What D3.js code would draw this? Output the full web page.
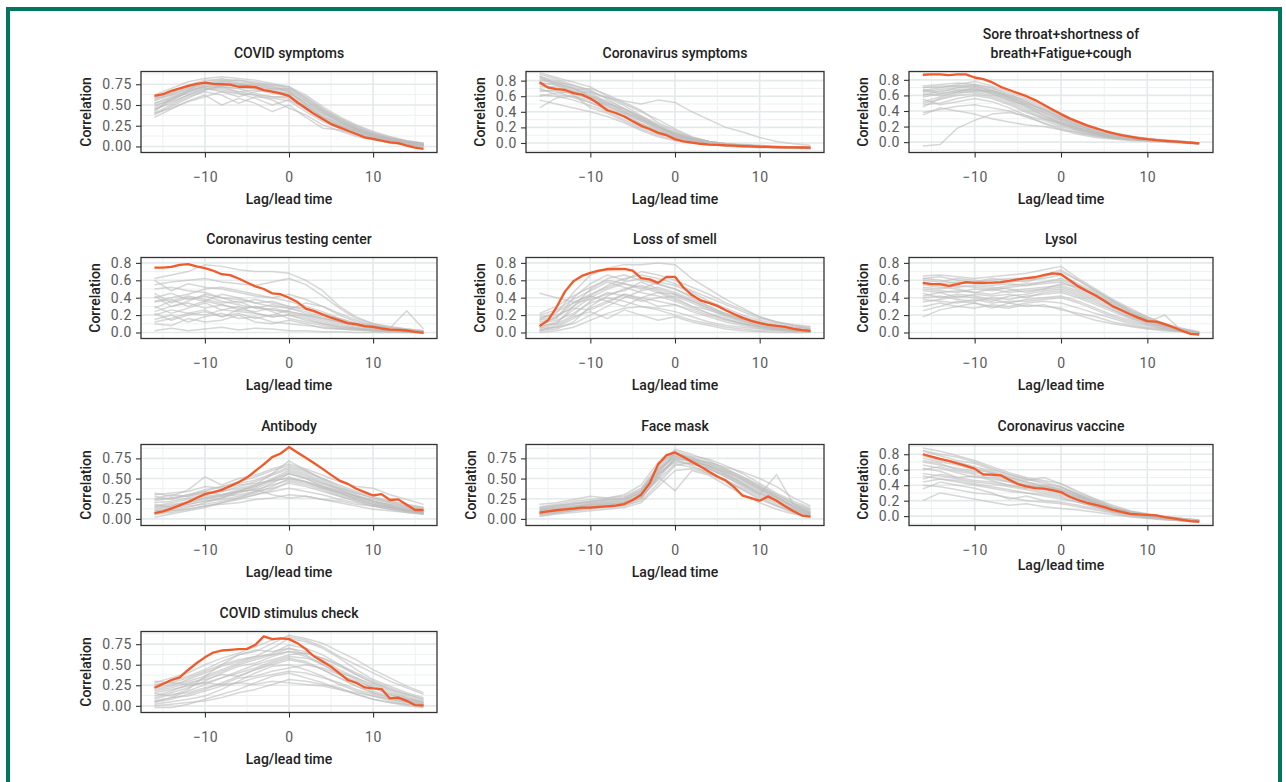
<!DOCTYPE html>
<html>
<head>
<meta charset="utf-8">
<script src="https://cdn.jsdelivr.net/npm/d3@7"></script>
<style>
	body { margin: 0; background: #fff; }
	svg text { font-family: Roboto, "Noto Sans", sans-serif; }
</style>
</head>
<body>
<div id="chart"></div>
<script>
var CHART_WIDTH = 1286;
var CHART_HEIGHT = 782;

// lag values of the highlighted series and of the background series
var LAGS = [-16,-15,-14,-13,-12,-11,-10,-9,-8,-7,-6,-5,-4,-3,-2,-1,0,1,2,3,4,5,6,7,8,9,10,11,12,13,14,15,16];
var LAGS_COARSE = [-16,-14,-12,-10,-8,-6,-4,-2,0,2,4,6,8,10,12,14,16];

var X_TICKS = [-10, 0, 10];
var X_TICK_LABELS = ["\u221210", "0", "10"];
var Y_TICKS_QUARTER = [0, 0.25, 0.5, 0.75];
var Y_LABELS_QUARTER = ["0.00", "0.25", "0.50", "0.75"];
var Y_TICKS_FIFTH = [0, 0.2, 0.4, 0.6, 0.8];
var Y_LABELS_FIFTH = ["0.0", "0.2", "0.4", "0.6", "0.8"];

var TITLES = [
	["COVID symptoms"],
	["Coronavirus symptoms"],
	["Sore throat+shortness of", "breath+Fatigue+cough"],
	["Coronavirus testing center"],
	["Loss of smell"],
	["Lysol"],
	["Antibody"],
	["Face mask"],
	["Coronavirus vaccine"],
	["COVID stimulus check"]
];

// y limits of each panel (data range incl. padding)
var Y_LIMITS = [
	[-0.073, 0.904], [-0.122, 0.917], [-0.133, 0.907],
	[-0.069, 0.862], [-0.069, 0.862], [-0.069, 0.862],
	[-0.082, 0.922], [-0.082, 0.922], [-0.121, 0.926],
	[-0.081, 0.904]
];

// highlighted (orange) series, one value per lag
var covidSymptoms = [0.61,0.63,0.67,0.70,0.73,0.755,0.77,0.755,0.75,0.745,0.72,0.72,0.715,0.68,0.66,0.64,0.61,0.53,0.46,0.39,0.33,0.27,0.23,0.19,0.15,0.11,0.09,0.07,0.05,0.04,0.01,-0.015,-0.03];
var coronavirusSymptoms = [0.78,0.71,0.69,0.68,0.64,0.62,0.57,0.50,0.42,0.385,0.34,0.28,0.22,0.18,0.13,0.10,0.05,0.02,0.005,-0.01,-0.02,-0.025,-0.03,-0.035,-0.04,-0.043,-0.048,-0.05,-0.053,-0.055,-0.057,-0.058,-0.06];
var soreThroat = [0.865,0.87,0.87,0.86,0.87,0.87,0.83,0.81,0.77,0.71,0.67,0.63,0.59,0.54,0.48,0.42,0.36,0.305,0.26,0.215,0.18,0.146,0.116,0.09,0.07,0.05,0.04,0.026,0.017,0.009,0.0,-0.008,-0.017];
var testingCenter = [0.746,0.746,0.754,0.777,0.785,0.76,0.74,0.71,0.67,0.66,0.62,0.575,0.53,0.50,0.45,0.44,0.40,0.35,0.275,0.245,0.207,0.17,0.14,0.107,0.096,0.073,0.065,0.046,0.034,0.03,0.023,0.008,-0.004];
var lossOfSmell = [0.073,0.14,0.29,0.47,0.59,0.65,0.685,0.71,0.727,0.73,0.73,0.71,0.624,0.61,0.57,0.64,0.64,0.517,0.43,0.37,0.34,0.306,0.256,0.21,0.168,0.134,0.107,0.088,0.077,0.065,0.042,0.027,0.019];
var lysol = [0.57,0.555,0.555,0.536,0.555,0.578,0.57,0.57,0.574,0.58,0.593,0.61,0.624,0.635,0.66,0.68,0.67,0.60,0.53,0.478,0.425,0.364,0.30,0.256,0.21,0.168,0.13,0.126,0.096,0.06,0.02,-0.015,-0.023];
var antibody = [0.07,0.094,0.127,0.168,0.21,0.258,0.307,0.332,0.36,0.406,0.455,0.512,0.594,0.676,0.766,0.81,0.89,0.824,0.758,0.69,0.62,0.545,0.475,0.434,0.373,0.332,0.29,0.307,0.234,0.242,0.176,0.11,0.11];
var faceMask = [0.078,0.094,0.107,0.119,0.127,0.139,0.139,0.148,0.156,0.164,0.184,0.234,0.30,0.44,0.676,0.79,0.824,0.766,0.709,0.648,0.586,0.525,0.475,0.39,0.287,0.258,0.225,0.279,0.225,0.156,0.094,0.041,0.029];
var coronavirusVaccine = [0.80,0.77,0.74,0.714,0.683,0.65,0.614,0.536,0.536,0.528,0.471,0.415,0.385,0.363,0.355,0.337,0.311,0.25,0.208,0.173,0.147,0.117,0.082,0.056,0.03,0.022,0.017,0.009,-0.013,-0.03,-0.048,-0.065,-0.07];
var stimulusCheck = [0.22,0.265,0.314,0.347,0.436,0.518,0.59,0.648,0.673,0.68,0.689,0.693,0.742,0.844,0.811,0.82,0.811,0.762,0.689,0.60,0.538,0.477,0.395,0.314,0.28,0.224,0.212,0.204,0.09,0.10,0.061,0.008,0.004];

// background (grey) series, one value per coarse lag
var covidSymptomsOthers = [
	[.55,.62,.70,.74,.76,.75,.74,.70,.66,.52,.40,.30,.21,.14,.09,.05,.02],
	[.48,.58,.68,.72,.70,.66,.68,.64,.62,.50,.38,.27,.19,.12,.08,.04,.01],
	[.40,.50,.60,.66,.62,.52,.60,.58,.55,.42,.30,.22,.16,.10,.06,.03,.00],
	[.62,.70,.78,.82,.84,.82,.80,.76,.72,.58,.44,.32,.23,.15,.10,.06,.03],
	[.35,.45,.55,.62,.50,.58,.52,.42,.50,.35,.22,.20,.14,.09,.04,.02,-.01],
	[.50,.55,.66,.74,.78,.80,.78,.74,.70,.60,.46,.34,.25,.17,.11,.07,.04],
	[.58,.66,.72,.76,.72,.70,.64,.60,.58,.48,.36,.26,.18,.12,.08,.05,.02],
	[.45,.52,.62,.68,.74,.72,.70,.66,.60,.45,.32,.25,.18,.12,.07,.03,.01],
	[.42,.58,.64,.70,.66,.60,.66,.70,.68,.55,.42,.30,.20,.13,.08,.05,.03],
	[.60,.64,.74,.80,.80,.76,.72,.68,.64,.54,.42,.31,.22,.14,.09,.05,.02],
	[.38,.48,.58,.68,.72,.66,.62,.56,.46,.38,.26,.19,.12,.08,.05,.02,.00],
	[.52,.60,.68,.78,.82,.78,.76,.72,.66,.50,.36,.28,.20,.13,.09,.06,.04],
	[.46,.56,.66,.72,.72,.70,.70,.66,.64,.52,.40,.29,.21,.14,.09,.05,.02],
	[.56,.64,.72,.76,.78,.76,.74,.72,.68,.56,.43,.32,.22,.15,.10,.06,.03],
	[.44,.54,.62,.70,.68,.64,.62,.60,.60,.48,.35,.25,.18,.11,.07,.04,.01],
	[.52,.58,.66,.72,.76,.74,.72,.70,.70,.58,.45,.34,.24,.16,.10,.06,.03],
	[.40,.46,.54,.60,.66,.64,.58,.50,.56,.46,.34,.24,.16,.10,.06,.03,.01],
	[.58,.62,.70,.76,.80,.80,.76,.74,.72,.62,.48,.36,.26,.18,.12,.07,.04]
];
var coronavirusSymptomsOthers = [
	[.85,.80,.72,.64,.52,.40,.30,.20,.12,.05,.01,-.02,-.03,-.04,-.05,-.06,-.06],
	[.75,.70,.66,.58,.46,.36,.25,.16,.08,.03,-.01,-.03,-.04,-.05,-.05,-.06,-.06],
	[.62,.60,.55,.48,.40,.30,.20,.12,.06,.02,-.02,-.03,-.04,-.05,-.06,-.06,-.07],
	[.90,.84,.78,.72,.60,.50,.40,.30,.18,.08,.02,-.01,-.03,-.04,-.05,-.05,-.05],
	[.45,.58,.60,.52,.44,.34,.24,.15,.08,.03,.00,-.02,-.03,-.04,-.05,-.05,-.06],
	[.80,.78,.74,.66,.58,.48,.35,.24,.14,.06,.02,-.01,-.02,-.03,-.04,-.05,-.05],
	[.70,.62,.60,.55,.50,.44,.34,.22,.10,.04,.00,-.02,-.03,-.04,-.05,-.06,-.06],
	[.60,.64,.66,.65,.58,.54,.50,.55,.52,.40,.30,.20,.14,.07,.02,-.01,-.03],
	[.86,.76,.70,.60,.48,.38,.28,.18,.10,.04,.00,-.02,-.04,-.05,-.06,-.06,-.07],
	[.66,.68,.62,.45,.38,.28,.18,.10,.04,.01,-.02,-.04,-.05,-.05,-.06,-.06,-.07],
	[.78,.74,.68,.70,.62,.52,.42,.26,.16,.07,.02,-.01,-.03,-.04,-.05,-.05,-.06],
	[.55,.50,.45,.40,.34,.26,.16,.08,.03,.00,-.02,-.04,-.05,-.06,-.06,-.07,-.07],
	[.82,.78,.70,.62,.50,.40,.30,.20,.12,.06,.02,-.01,-.03,-.04,-.05,-.06,-.06],
	[.72,.72,.64,.56,.48,.38,.28,.18,.10,.05,.01,-.02,-.03,-.04,-.05,-.05,-.06],
	[.88,.82,.74,.68,.56,.44,.32,.22,.13,.06,.02,-.01,-.03,-.04,-.05,-.06,-.06],
	[.68,.66,.58,.52,.42,.34,.24,.14,.08,.03,.00,-.02,-.04,-.05,-.05,-.06,-.07],
	[.76,.76,.70,.60,.54,.44,.33,.22,.12,.05,.01,-.02,-.03,-.04,-.05,-.06,-.06],
	[.84,.74,.66,.58,.52,.42,.31,.20,.11,.05,.01,-.02,-.03,-.04,-.05,-.06,-.06]
];
var soreThroatOthers = [
	[.72,.74,.76,.74,.70,.62,.52,.40,.30,.21,.15,.10,.06,.04,.02,.00,-.01],
	[.60,.66,.68,.68,.64,.56,.46,.34,.24,.16,.10,.06,.04,.02,.01,.00,-.02],
	[.50,.55,.60,.62,.58,.50,.40,.30,.22,.15,.10,.06,.04,.02,.01,.00,-.01],
	[.38,.42,.46,.48,.44,.40,.32,.25,.18,.12,.08,.05,.03,.02,.01,.00,-.01],
	[-.05,-.03,.18,.28,.36,.38,.34,.28,.20,.14,.09,.06,.04,.02,.01,.00,-.01],
	[.66,.70,.74,.78,.72,.64,.56,.46,.34,.24,.16,.10,.07,.04,.02,.01,-.01],
	[.55,.48,.52,.56,.52,.44,.34,.24,.16,.10,.06,.04,.02,.01,.00,-.01,-.02],
	[.45,.56,.62,.66,.66,.60,.54,.44,.34,.24,.17,.12,.08,.05,.03,.01,-.01],
	[.68,.64,.70,.72,.68,.58,.50,.42,.32,.22,.14,.09,.05,.03,.02,.00,-.02],
	[.35,.44,.40,.36,.30,.26,.22,.20,.16,.12,.08,.05,.03,.02,.01,.00,-.01],
	[.62,.60,.64,.70,.62,.54,.48,.38,.28,.18,.12,.08,.05,.03,.02,.01,-.01],
	[.70,.72,.72,.72,.66,.58,.50,.42,.32,.22,.14,.08,.05,.03,.01,.00,-.02],
	[.64,.68,.70,.70,.66,.58,.48,.38,.28,.19,.12,.08,.05,.03,.01,.00,-.02],
	[.58,.62,.66,.66,.62,.54,.44,.34,.25,.17,.11,.07,.04,.02,.01,.00,-.01],
	[.70,.70,.72,.74,.70,.60,.52,.42,.30,.20,.13,.08,.05,.03,.02,.00,-.01],
	[.52,.58,.64,.64,.60,.52,.42,.32,.24,.16,.10,.06,.04,.02,.01,.00,-.01],
	[.66,.62,.66,.68,.64,.56,.46,.36,.26,.18,.12,.07,.04,.03,.01,.00,-.02],
	[.48,.50,.56,.60,.56,.48,.38,.30,.24,.18,.12,.08,.05,.03,.02,.00,-.01]
];
var testingCenterOthers = [
	[.62,.66,.70,.78,.76,.72,.70,.70,.68,.60,.48,.30,.18,.10,.06,.04,.02],
	[.40,.45,.38,.42,.36,.32,.28,.26,.22,.18,.12,.08,.05,.03,.02,.01,.00],
	[.30,.22,.28,.34,.26,.30,.22,.18,.20,.14,.10,.06,.04,.02,.01,.00,.00],
	[.15,.20,.12,.18,.22,.16,.18,.12,.10,.08,.06,.04,.03,.02,.02,.01,.00],
	[.50,.52,.48,.46,.40,.38,.34,.36,.30,.26,.20,.14,.08,.05,.03,.02,.01],
	[.02,.05,.02,.04,.06,.03,.05,.04,.02,.02,.01,.01,.00,.00,.00,.00,.00],
	[.36,.40,.44,.50,.52,.48,.44,.40,.36,.30,.24,.16,.10,.08,.05,.25,.04],
	[.24,.30,.34,.28,.32,.26,.30,.24,.16,.12,.08,.05,.04,.03,.02,.01,.00],
	[.55,.58,.60,.62,.58,.56,.54,.58,.62,.55,.42,.28,.16,.10,.07,.04,.02],
	[.10,.08,.16,.12,.14,.20,.12,.10,.14,.10,.05,.04,.03,.02,.02,.01,.00],
	[.45,.34,.40,.36,.44,.40,.34,.30,.28,.22,.16,.12,.08,.06,.04,.03,.01],
	[.20,.26,.22,.26,.18,.22,.16,.20,.26,.34,.30,.22,.14,.08,.05,.03,.01],
	[.35,.38,.30,.36,.32,.28,.30,.26,.24,.20,.14,.10,.06,.04,.03,.02,.01],
	[.28,.36,.42,.38,.34,.36,.28,.32,.28,.24,.18,.12,.08,.05,.03,.02,.01],
	[.42,.30,.36,.44,.40,.34,.38,.34,.30,.28,.22,.16,.10,.06,.04,.02,.01],
	[.12,.16,.22,.20,.26,.24,.22,.18,.20,.16,.10,.07,.05,.03,.02,.01,.00],
	[.60,.48,.56,.52,.50,.46,.42,.40,.44,.38,.30,.20,.12,.08,.05,.03,.02],
	[.22,.14,.20,.24,.18,.26,.24,.28,.24,.20,.16,.12,.08,.05,.03,.02,.01]
];
var lossOfSmellOthers = [
	[.05,.10,.30,.50,.62,.66,.60,.55,.50,.40,.30,.20,.14,.08,.05,.03,.02],
	[.02,.04,.12,.30,.42,.50,.54,.48,.40,.30,.22,.16,.10,.06,.04,.02,.01],
	[.20,.26,.38,.48,.58,.52,.46,.42,.36,.28,.22,.15,.10,.07,.05,.03,.02],
	[.45,.40,.35,.42,.36,.30,.40,.46,.38,.30,.26,.20,.15,.12,.08,.06,.05],
	[.10,.14,.22,.34,.40,.36,.30,.28,.24,.18,.12,.08,.06,.04,.03,.02,.01],
	[.00,.02,.06,.14,.22,.28,.30,.26,.20,.14,.10,.06,.04,.02,.02,.01,.01],
	[.15,.22,.46,.66,.74,.78,.78,.80,.78,.62,.50,.38,.28,.18,.12,.08,.06],
	[.08,.18,.30,.42,.54,.62,.66,.62,.56,.48,.40,.32,.24,.16,.12,.09,.07],
	[.05,.06,.10,.20,.30,.40,.48,.52,.46,.38,.30,.22,.15,.10,.06,.04,.02],
	[.18,.20,.28,.26,.34,.44,.38,.30,.32,.24,.18,.12,.08,.05,.03,.02,.01],
	[.02,.08,.18,.24,.16,.26,.20,.14,.18,.12,.08,.04,.02,.01,.00,.00,.00],
	[.12,.16,.40,.56,.66,.60,.70,.66,.60,.52,.44,.34,.26,.18,.12,.08,.04],
	[.06,.12,.26,.40,.50,.56,.52,.46,.44,.36,.28,.20,.13,.08,.05,.03,.02],
	[.14,.18,.34,.44,.52,.58,.62,.56,.50,.42,.34,.26,.18,.12,.08,.05,.03],
	[.03,.06,.16,.28,.36,.44,.40,.36,.32,.26,.20,.14,.10,.06,.04,.02,.01],
	[.22,.30,.42,.52,.60,.56,.50,.58,.54,.46,.36,.28,.20,.14,.10,.06,.04],
	[.08,.10,.20,.36,.46,.42,.36,.40,.42,.34,.26,.18,.12,.08,.05,.03,.02],
	[.16,.24,.34,.38,.44,.48,.58,.50,.44,.36,.28,.22,.16,.11,.07,.04,.02]
];
var lysolOthers = [
	[.65,.66,.64,.62,.64,.66,.68,.72,.76,.62,.50,.38,.28,.18,.10,.04,.00],
	[.50,.48,.46,.50,.48,.52,.54,.56,.58,.50,.42,.32,.22,.14,.08,.03,-.01],
	[.40,.42,.38,.36,.40,.38,.42,.44,.46,.40,.32,.24,.16,.10,.06,.02,-.01],
	[.30,.34,.30,.28,.32,.30,.34,.36,.34,.28,.22,.16,.10,.06,.04,.01,-.02],
	[.60,.58,.62,.60,.56,.58,.60,.62,.66,.56,.46,.36,.26,.18,.10,.05,.01],
	[.18,.26,.30,.34,.28,.34,.30,.32,.26,.22,.18,.12,.08,.05,.03,.01,-.01],
	[.55,.52,.50,.46,.44,.48,.50,.52,.54,.48,.40,.30,.20,.12,.07,.03,.00],
	[.45,.40,.44,.42,.38,.34,.38,.40,.42,.36,.28,.20,.14,.09,.05,.02,-.01],
	[.62,.60,.56,.58,.62,.60,.58,.64,.70,.60,.48,.36,.24,.16,.08,.03,.00],
	[.35,.38,.42,.40,.36,.42,.44,.48,.50,.44,.36,.26,.18,.12,.20,.02,-.01],
	[.58,.54,.52,.54,.52,.50,.46,.50,.56,.52,.44,.34,.24,.15,.08,.03,.00],
	[.25,.30,.36,.34,.30,.28,.32,.30,.28,.20,.14,.10,.07,.04,.02,.01,-.01],
	[.52,.50,.54,.52,.50,.54,.56,.58,.62,.54,.44,.34,.24,.15,.08,.03,.00],
	[.48,.46,.48,.46,.50,.46,.48,.50,.52,.46,.38,.28,.19,.12,.07,.02,-.01],
	[.42,.46,.40,.44,.42,.44,.40,.46,.48,.42,.34,.26,.17,.11,.06,.02,-.01],
	[.56,.56,.58,.56,.54,.56,.54,.58,.60,.52,.42,.32,.22,.14,.08,.03,.00],
	[.38,.36,.34,.38,.34,.36,.36,.38,.40,.34,.26,.18,.12,.08,.04,.01,-.01],
	[.62,.64,.60,.58,.60,.62,.62,.66,.72,.60,.48,.37,.26,.16,.09,.04,.00]
];
var antibodyOthers = [
	[.05,.10,.14,.20,.26,.34,.42,.56,.72,.60,.48,.38,.30,.22,.16,.10,.07],
	[.20,.22,.26,.30,.34,.40,.46,.54,.62,.56,.46,.36,.28,.22,.18,.14,.10],
	[.30,.32,.34,.40,.38,.42,.44,.48,.50,.46,.40,.34,.28,.24,.20,.16,.12],
	[.10,.12,.16,.18,.22,.26,.30,.34,.38,.34,.30,.24,.20,.16,.12,.09,.06],
	[.15,.18,.20,.26,.30,.36,.40,.48,.58,.52,.44,.38,.32,.26,.20,.16,.12],
	[.25,.30,.28,.34,.30,.34,.36,.30,.26,.28,.24,.22,.18,.16,.14,.10,.08],
	[.02,.06,.10,.14,.20,.26,.34,.44,.56,.50,.40,.32,.24,.18,.14,.10,.06],
	[.32,.28,.36,.52,.42,.50,.54,.62,.68,.62,.54,.46,.40,.38,.30,.24,.18],
	[.12,.16,.22,.26,.28,.30,.34,.38,.44,.40,.34,.28,.22,.18,.14,.10,.08],
	[.18,.14,.18,.22,.26,.32,.38,.46,.52,.46,.38,.30,.24,.18,.14,.11,.08],
	[.08,.10,.12,.16,.18,.20,.24,.26,.30,.28,.24,.20,.16,.12,.10,.08,.06],
	[.22,.26,.30,.36,.40,.46,.52,.60,.66,.60,.50,.42,.34,.28,.22,.18,.14],
	[.14,.16,.20,.24,.28,.34,.40,.50,.60,.54,.44,.36,.28,.22,.17,.13,.09],
	[.24,.26,.28,.32,.34,.38,.42,.48,.56,.50,.42,.34,.28,.22,.18,.14,.10],
	[.06,.08,.12,.16,.20,.24,.30,.36,.46,.42,.36,.28,.22,.16,.12,.08,.06],
	[.28,.24,.30,.34,.40,.44,.48,.56,.64,.58,.50,.40,.32,.26,.22,.18,.14],
	[.16,.20,.24,.28,.30,.34,.36,.42,.48,.44,.38,.32,.26,.20,.16,.12,.09],
	[.10,.14,.18,.22,.24,.28,.32,.40,.50,.46,.40,.32,.26,.20,.15,.11,.08]
];
var faceMaskOthers = [
	[.05,.08,.10,.12,.14,.16,.24,.56,.82,.74,.66,.56,.44,.32,.22,.12,.05],
	[.12,.16,.18,.20,.22,.24,.32,.60,.76,.70,.62,.54,.46,.36,.26,.16,.08],
	[.08,.10,.14,.18,.18,.20,.28,.48,.68,.64,.58,.48,.38,.28,.18,.10,.04],
	[.15,.18,.22,.24,.26,.28,.38,.66,.86,.80,.72,.62,.52,.42,.30,.20,.12],
	[.03,.06,.08,.10,.12,.14,.20,.40,.60,.62,.56,.46,.36,.24,.16,.08,.03],
	[.10,.12,.14,.15,.16,.20,.30,.52,.35,.60,.54,.42,.30,.20,.12,.06,.02],
	[.18,.20,.24,.28,.26,.30,.42,.70,.80,.76,.70,.64,.58,.50,.40,.26,.16],
	[.06,.09,.12,.14,.16,.18,.26,.54,.72,.68,.62,.52,.40,.30,.55,.18,.08],
	[.10,.14,.16,.18,.20,.22,.34,.62,.78,.72,.64,.58,.48,.38,.28,.14,.06],
	[.04,.07,.10,.13,.15,.17,.22,.44,.66,.70,.66,.56,.44,.34,.24,.14,.07],
	[.12,.14,.18,.22,.24,.26,.36,.64,.84,.78,.74,.66,.56,.44,.32,.22,.14],
	[.07,.10,.12,.16,.17,.19,.26,.50,.74,.66,.56,.48,.36,.26,.16,.08,.04],
	[.09,.12,.15,.17,.19,.21,.30,.58,.80,.74,.68,.60,.50,.38,.27,.16,.08],
	[.11,.13,.16,.19,.21,.23,.32,.56,.74,.72,.66,.58,.48,.36,.26,.15,.07],
	[.06,.08,.11,.14,.16,.18,.26,.52,.76,.72,.64,.54,.42,.32,.22,.12,.05],
	[.13,.16,.20,.22,.24,.26,.36,.62,.82,.76,.68,.60,.50,.40,.28,.18,.10],
	[.08,.11,.14,.16,.18,.20,.28,.56,.70,.68,.62,.52,.42,.30,.20,.11,.05],
	[.14,.17,.19,.21,.23,.25,.34,.60,.78,.74,.70,.62,.52,.40,.30,.19,.11]
];
var coronavirusVaccineOthers = [
	[.85,.80,.76,.70,.62,.54,.48,.44,.38,.28,.18,.10,.04,.01,-.02,-.04,-.06],
	[.70,.66,.62,.58,.52,.46,.40,.36,.32,.24,.16,.08,.03,.00,-.03,-.05,-.07],
	[.55,.52,.48,.44,.42,.38,.34,.30,.26,.20,.12,.06,.02,-.01,-.03,-.05,-.07],
	[.40,.38,.34,.30,.28,.24,.20,.18,.16,.12,.08,.04,.00,-.02,-.04,-.06,-.08],
	[.20,.30,.26,.22,.18,.14,.16,.12,.10,.08,.05,.02,-.01,-.03,-.05,-.06,-.08],
	[.88,.84,.78,.72,.64,.56,.50,.46,.42,.32,.22,.12,.06,.02,-.01,-.03,-.05],
	[.62,.58,.50,.46,.44,.40,.36,.40,.34,.26,.18,.10,.04,.01,-.02,-.04,-.06],
	[.75,.70,.66,.60,.56,.50,.44,.38,.34,.26,.18,.10,.05,.02,-.01,-.04,-.06],
	[.48,.54,.50,.52,.46,.40,.36,.32,.28,.22,.14,.08,.03,.00,-.03,-.05,-.07],
	[.35,.44,.40,.36,.30,.22,.26,.20,.18,.14,.10,.05,.01,-.02,-.04,-.06,-.07],
	[.80,.74,.70,.64,.58,.52,.46,.50,.42,.30,.22,.14,.07,.03,.00,-.03,-.05],
	[.66,.62,.56,.50,.50,.44,.38,.34,.30,.24,.16,.08,.03,.00,-.02,-.05,-.07],
	[.78,.72,.68,.62,.56,.50,.44,.40,.36,.28,.20,.11,.05,.02,-.01,-.04,-.06],
	[.60,.64,.58,.54,.48,.44,.40,.36,.30,.24,.16,.09,.04,.01,-.02,-.04,-.06],
	[.72,.68,.60,.56,.54,.48,.42,.38,.34,.26,.18,.10,.04,.01,-.02,-.04,-.06],
	[.52,.48,.46,.42,.38,.34,.30,.28,.24,.18,.12,.06,.02,-.01,-.03,-.05,-.07],
	[.84,.78,.72,.68,.60,.54,.48,.42,.38,.28,.20,.12,.06,.02,-.01,-.03,-.05],
	[.44,.48,.44,.40,.36,.32,.30,.26,.22,.18,.12,.06,.02,-.01,-.03,-.05,-.07]
];
var stimulusCheckOthers = [
	[.10,.16,.22,.30,.40,.48,.52,.60,.66,.60,.50,.38,.28,.18,.12,.08,.04],
	[.20,.24,.32,.40,.48,.54,.60,.70,.82,.78,.70,.58,.44,.32,.24,.16,.10],
	[-.02,-.02,.02,.08,.14,.20,.28,.36,.40,.34,.28,.20,.14,.08,.04,.02,.00],
	[.30,.28,.26,.28,.26,.28,.26,.30,.28,.26,.24,.20,.16,.12,.08,.04,.02],
	[.05,.10,.18,.26,.34,.42,.50,.56,.62,.64,.58,.50,.40,.30,.22,.14,.08],
	[.15,.12,.20,.36,.50,.62,.66,.76,.86,.82,.76,.66,.56,.44,.34,.24,.16],
	[.02,.05,.08,.12,.20,.30,.40,.48,.50,.44,.36,.26,.18,.12,.06,.02,.00],
	[.25,.30,.36,.44,.54,.62,.68,.66,.70,.62,.50,.40,.34,.26,.18,.10,.04],
	[.08,.14,.16,.22,.26,.34,.36,.42,.46,.50,.46,.38,.30,.22,.14,.08,.02],
	[.18,.22,.28,.32,.38,.36,.44,.52,.58,.54,.44,.34,.24,.16,.10,.06,.02],
	[.00,.02,.04,.06,.10,.16,.20,.26,.32,.30,.26,.22,.14,.08,.04,.00,-.02],
	[.28,.34,.40,.50,.58,.64,.72,.80,.84,.80,.72,.60,.50,.40,.30,.22,.14],
	[.12,.18,.26,.34,.42,.50,.56,.62,.70,.66,.56,.44,.34,.24,.16,.10,.05],
	[.04,.08,.14,.20,.28,.36,.44,.50,.56,.52,.44,.34,.24,.16,.10,.05,.02],
	[.22,.26,.30,.36,.44,.52,.58,.64,.74,.70,.62,.50,.38,.28,.20,.12,.06],
	[.16,.20,.24,.28,.34,.40,.46,.54,.60,.58,.52,.42,.32,.22,.14,.08,.04],
	[.06,.10,.12,.18,.24,.28,.34,.38,.42,.40,.34,.28,.20,.14,.08,.04,.01],
	[.26,.28,.34,.42,.50,.56,.60,.62,.66,.64,.58,.48,.38,.28,.20,.14,.08]
];

var MAIN_SERIES = [covidSymptoms, coronavirusSymptoms, soreThroat, testingCenter, lossOfSmell, lysol, antibody, faceMask, coronavirusVaccine, stimulusCheck];
var OTHER_SERIES = [covidSymptomsOthers, coronavirusSymptomsOthers, soreThroatOthers, testingCenterOthers, lossOfSmellOthers, lysolOthers, antibodyOthers, faceMaskOthers, coronavirusVaccineOthers, stimulusCheckOthers];
var USE_QUARTER_TICKS = [true, false, false, false, false, false, true, true, false, true];

// layout of the grid of panels
var COL_LEFT = [141, 526, 909];
var COL_RIGHT = [437, 824, 1213];
var ROW_TOP = [71.5, 257.5, 444.5, 631.5];
var PANEL_HEIGHT = 81;
var X_PAD = 17.6;

var svg = d3.select("#chart")
	.append("svg")
	.attr("width", CHART_WIDTH)
	.attr("height", CHART_HEIGHT);

svg.append("rect")
	.attr("width", CHART_WIDTH)
	.attr("height", CHART_HEIGHT)
	.attr("fill", "#fff");

// green frame
svg.append("rect")
	.attr("x", 8)
	.attr("y", 9)
	.attr("width", 1272)
	.attr("height", 820)
	.attr("fill", "none")
	.attr("stroke", "#00775f")
	.attr("stroke-width", 4);

function minorTicks(ticks, domain) {
	var step = ticks[1] - ticks[0];
	var out = [];
	for (var v = ticks[0] - step / 2; v <= domain[1]; v += step) {
		if (v >= domain[0]) out.push(v);
	}
	return out;
}

function drawPanel(i) {
	var col = i % 3;
	var row = Math.floor(i / 3);
	var left = COL_LEFT[col], right = COL_RIGHT[col];
	var top = ROW_TOP[row], bottom = top + PANEL_HEIGHT;
	var quarter = USE_QUARTER_TICKS[i];
	var yTicks = quarter ? Y_TICKS_QUARTER : Y_TICKS_FIFTH;
	var yLabels = quarter ? Y_LABELS_QUARTER : Y_LABELS_FIFTH;

	var x = d3.scaleLinear().domain([-X_PAD, X_PAD]).range([left, right]);
	var y = d3.scaleLinear().domain(Y_LIMITS[i]).range([bottom, top]);

	var g = svg.append("g").attr("class", "panel");

	// grid
	var xMinor = [-15, -5, 5, 15];
	var yMinor = minorTicks(yTicks, Y_LIMITS[i]);
	g.selectAll(".minor-x").data(xMinor).join("line")
		.attr("x1", d => x(d)).attr("x2", d => x(d))
		.attr("y1", top).attr("y2", bottom)
		.attr("stroke", "#eef1f1").attr("stroke-width", 1);
	g.selectAll(".minor-y").data(yMinor).join("line")
		.attr("x1", left).attr("x2", right)
		.attr("y1", d => y(d)).attr("y2", d => y(d))
		.attr("stroke", "#eef1f1").attr("stroke-width", 1);
	g.selectAll(".major-x").data(X_TICKS).join("line")
		.attr("x1", d => x(d)).attr("x2", d => x(d))
		.attr("y1", top).attr("y2", bottom)
		.attr("stroke", "#e4e9e9").attr("stroke-width", 1.6);
	g.selectAll(".major-y").data(yTicks).join("line")
		.attr("x1", left).attr("x2", right)
		.attr("y1", d => y(d)).attr("y2", d => y(d))
		.attr("stroke", "#e4e9e9").attr("stroke-width", 1.6);

	var coarseLine = d3.line()
		.x((d, k) => x(LAGS_COARSE[k]))
		.y(d => y(d));
	var fineLine = d3.line()
		.x((d, k) => x(LAGS[k]))
		.y(d => y(d));

	g.selectAll(".other").data(OTHER_SERIES[i]).join("path")
		.attr("d", coarseLine)
		.attr("fill", "none")
		.attr("stroke", "#bcbcbc")
		.attr("stroke-opacity", 0.6)
		.attr("stroke-width", 1.5)
		.attr("stroke-linejoin", "round");

	g.append("path")
		.attr("d", fineLine(MAIN_SERIES[i]))
		.attr("fill", "none")
		.attr("stroke", "#f15a29")
		.attr("stroke-width", 2.3)
		.attr("stroke-linejoin", "round");

	g.append("rect")
		.attr("x", left).attr("y", top)
		.attr("width", right - left).attr("height", bottom - top)
		.attr("fill", "none")
		.attr("stroke", "#333")
		.attr("stroke-width", 1.3);

	// axes
	var yAxis = g.append("g")
		.attr("transform", `translate(${left},0)`)
		.call(d3.axisLeft(y).tickValues(yTicks).tickFormat((d, k) => yLabels[k]).tickSize(5).tickPadding(4));
	var xAxis = g.append("g")
		.attr("transform", `translate(0,${bottom})`)
		.call(d3.axisBottom(x).tickValues(X_TICKS).tickFormat((d, k) => X_TICK_LABELS[k]).tickSize(5).tickPadding(15));
	[yAxis, xAxis].forEach(function(a) {
		a.select(".domain").remove();
		a.selectAll(".tick line").attr("stroke", "#333").attr("stroke-width", 1.1);
		a.selectAll(".tick text")
			.attr("fill", "#5a5a5a")
			.style("font-size", "14px")
			.style("letter-spacing", "0.6px")
			.style("font-family", "Roboto, sans-serif");
	});

	var labelWidth = d3.max(yAxis.selectAll(".tick text").nodes(), n => n.getComputedTextLength());
	var cx = (left + right) / 2;

	// titles
	var lines = TITLES[i];
	lines.forEach(function(t, k) {
		g.append("text")
			.attr("x", cx)
			.attr("y", top - 14 - (lines.length - 1 - k) * 19)
			.attr("text-anchor", "middle")
			.attr("fill", "#222")
			.style("font-size", "14px")
			.style("font-weight", 500)
			.text(t);
	});

	g.append("text")
		.attr("x", cx)
		.attr("y", bottom + (i === 8 ? 44 : 51.5))
		.attr("text-anchor", "middle")
		.attr("fill", "#222")
		.style("font-size", "14px")
		.style("font-weight", 500)
		.text("Lag/lead time");

	var tx = left - 9 - labelWidth - 16;
	g.append("text")
		.attr("transform", `translate(${tx},${(top + bottom) / 2}) rotate(-90)`)
		.attr("dy", "0.35em")
		.attr("text-anchor", "middle")
		.attr("fill", "#222")
		.style("font-size", "14px")
		.style("font-weight", 500)
		.text("Correlation");
}

for (var i = 0; i < TITLES.length; i++) drawPanel(i);
</script>
</body>
</html>
